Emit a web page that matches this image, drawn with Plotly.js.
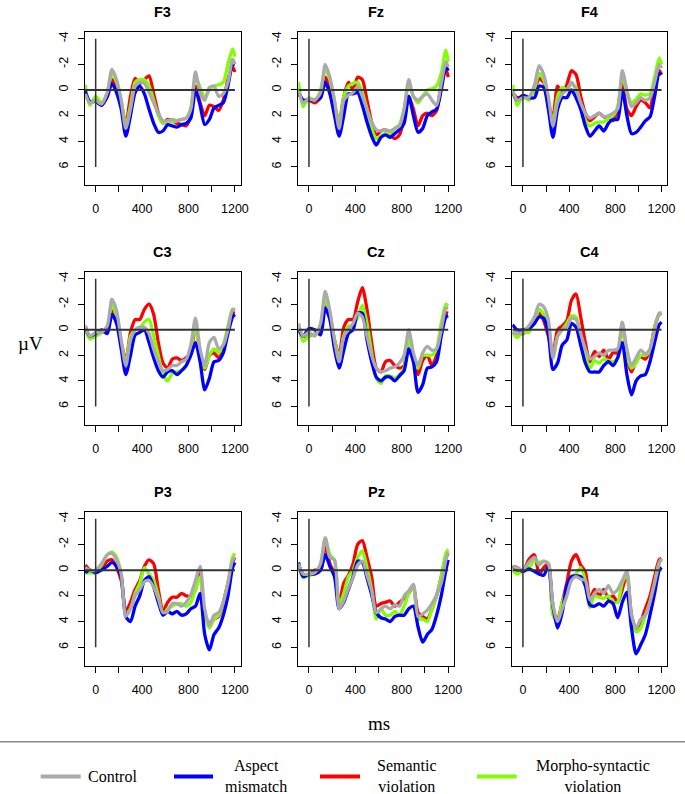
<!DOCTYPE html>
<html>
<head>
<meta charset="utf-8">
<script src="https://cdn.plot.ly/plotly-3.0.1.min.js"></script>
<style>html,body{margin:0;padding:0;background:#fff;}#chart{width:685px;height:794px;}</style>
</head>
<body>
<div id="chart"></div>
<script>
// time points (ms)
const ms = [-90,-50,0,50,100,140,180,220,260,300,340,380,420,460,500,540,580,620,660,700,740,780,820,860,900,940,980,1020,1060,1100,1140,1180,1200];

const seriesNames = ["Control", "Aspect mismatch", "Semantic violation", "Morpho-syntactic violation"];
const panelNames = ["F3","Fz","F4","C3","Cz","C4","P3","Pz","P4"];
const xTickVals = [0,200,400,600,800,1000,1200];
const xTickText = ["0","","400","","800","","1200"];
const yTickVals = [-4,-2,0,2,4,6];
const yTickText = ["-4","-2","0","2","4","6"];

// µV values (negative plotted up)
const F3_control  = [0.3,1.0,0.8,1.1,0.2,-1.6,-0.8,0.8,3.0,1.5,-0.3,-0.6,-0.5,0.2,1.0,1.8,2.4,2.4,2.3,2.4,2.3,2.2,1.5,-1.4,0.2,0.8,-0.2,-0.3,0.5,0.3,-0.6,-2.4,-2.0];
const F3_aspect   = [0.1,0.9,0.9,1.2,0.5,-0.5,0.2,1.5,3.6,2.0,0.2,-0.3,0.3,1.5,2.6,3.3,3.2,2.7,2.8,2.9,2.7,2.6,2.2,0.0,1.2,2.7,2.3,1.4,1.2,1.0,-0.3,-2.0,-2.0];
const F3_semantic = [0.2,1.0,0.8,1.2,0.5,-0.8,-0.3,1.0,2.7,0.5,-0.9,-0.5,-0.8,-1.1,0.3,1.8,2.6,2.3,2.4,2.6,2.7,2.8,2.0,-0.3,1.0,2.0,1.2,1.3,1.6,0.8,-0.8,-1.8,-1.4];
const F3_morpho   = [-0.4,1.2,0.5,1.0,0.2,-1.3,-0.6,0.8,2.8,1.2,-0.6,-0.8,-0.8,-0.3,0.8,2.0,2.6,2.4,2.5,2.4,2.3,2.2,1.4,-1.0,-0.2,0.6,0.0,-0.3,-0.4,-0.6,-2.0,-3.2,-2.6];

const Fz_control  = [0.0,1.0,0.7,0.8,0.2,-2.0,-1.0,0.8,3.0,0.8,0.4,0.2,-0.3,0.5,1.5,2.5,3.1,3.2,3.1,3.2,3.0,2.8,1.5,-0.8,0.5,0.8,0.5,0.3,0.8,1.2,-0.5,-2.2,-1.8];
const Fz_aspect   = [0.2,0.8,0.8,0.8,0.6,-0.6,0.3,2.0,3.6,2.0,0.3,0.3,0.2,1.2,2.5,3.6,4.3,3.7,3.5,3.7,3.4,3.1,2.6,0.5,2.0,3.3,3.0,2.0,1.7,1.5,0.0,-1.8,-1.5];
const Fz_semantic = [0.3,0.8,0.8,1.0,0.6,-1.0,-0.3,1.2,2.5,0.5,-0.6,0.0,-1.0,-0.8,0.8,2.5,3.5,3.2,3.1,3.5,3.8,3.5,2.2,0.5,1.5,2.8,2.0,1.8,2.0,1.6,-0.5,-1.6,-1.0];
const Fz_morpho   = [-0.6,1.3,0.6,0.8,0.0,-1.6,-0.8,0.9,2.7,0.5,-0.3,-0.5,-0.6,0.2,1.5,3.0,3.8,3.6,3.4,3.4,3.0,2.7,1.5,-0.4,0.5,1.0,0.5,0.0,-0.1,-0.3,-1.3,-3.1,-2.2];

const F4_control  = [0.0,0.8,0.6,0.6,-0.4,-1.9,-1.2,0.5,2.8,1.0,0.3,0.0,-0.6,0.0,1.0,1.8,2.2,2.0,1.8,2.1,2.0,1.8,1.5,-1.5,0.0,1.3,1.0,0.6,0.8,0.6,-0.6,-2.0,-1.7];
const F4_aspect   = [0.2,0.8,0.4,0.6,0.6,-0.3,-0.2,1.5,3.7,1.5,0.6,0.6,0.0,0.6,1.5,2.8,3.6,3.2,2.8,3.2,2.6,2.3,2.3,0.0,2.0,3.4,3.3,2.9,2.4,2.1,0.5,-1.3,-1.2];
const F4_semantic = [0.2,0.6,0.5,0.6,0.0,-0.9,-0.6,1.0,2.2,-0.3,0.2,-0.4,-1.5,-1.2,0.5,1.8,2.4,2.1,1.8,2.1,2.2,2.4,1.5,-0.5,1.5,2.0,1.3,0.8,1.0,1.4,-0.5,-1.5,-1.2];
const F4_morpho   = [-0.4,1.2,0.5,0.8,-0.1,-1.3,-0.8,0.8,2.6,0.5,-0.2,0.0,-0.5,-0.2,1.2,2.4,2.8,2.6,2.5,2.5,2.2,2.0,1.3,-1.1,0.2,1.0,0.7,0.3,0.4,0.3,-1.0,-2.5,-2.0];

const C3_control  = [-0.3,0.5,0.2,0.2,-0.3,-2.4,-1.5,0.8,2.8,0.8,0.0,-0.2,-0.2,0.3,1.5,2.5,3.2,3.1,2.8,2.8,2.5,2.3,1.2,-0.9,1.5,2.8,1.0,0.6,1.5,1.2,0.0,-1.6,-1.5];
const C3_aspect   = [-0.2,0.5,0.3,0.0,0.3,-1.2,-0.5,1.5,3.5,2.0,0.4,0.2,0.0,1.0,2.2,3.2,3.7,3.3,3.2,3.5,3.2,2.8,2.0,1.0,2.5,4.7,3.8,2.5,2.4,1.8,0.3,-1.0,-1.2];
const C3_semantic = [-0.3,0.5,0.3,0.2,0.0,-1.5,-0.8,1.0,2.4,0.2,-0.8,-0.8,-1.6,-2.0,-1.2,1.0,2.6,3.0,2.3,2.2,2.4,2.2,1.8,-0.5,2.0,3.1,2.0,1.8,2.2,1.5,0.0,-1.3,-1.3];
const C3_morpho   = [0.0,0.7,0.5,0.2,-0.2,-2.0,-1.0,1.0,2.6,0.5,0.0,-0.1,-0.6,-0.8,0.5,2.0,3.5,4.0,3.4,3.3,3.2,2.8,1.5,-0.3,2.0,3.0,2.0,1.5,1.8,1.2,-0.3,-1.6,-1.6];

const Cz_control  = [-0.5,0.5,0.2,0.5,-0.5,-3.0,-1.5,0.8,2.5,0.5,0.0,-0.5,-1.3,-1.0,0.5,2.0,3.0,3.3,3.2,3.0,2.9,2.6,2.0,0.0,1.8,2.8,1.8,1.3,1.6,1.5,0.0,-1.7,-1.7];
const Cz_aspect   = [0.0,0.5,-0.1,0.0,0.4,-1.7,-0.8,1.5,3.0,1.6,0.3,0.0,-1.3,-1.3,0.8,2.5,3.7,4.0,3.7,3.7,4.0,3.6,3.2,1.5,2.5,4.9,4.3,3.0,2.9,2.5,0.5,-1.0,-1.1];
const Cz_semantic = [0.0,0.5,0.5,0.3,0.0,-2.0,-1.0,0.8,2.0,-0.2,-0.8,-0.8,-2.2,-3.3,-1.6,1.0,3.0,3.3,2.5,2.4,2.8,3.0,2.8,0.3,2.3,3.5,2.4,2.0,2.8,2.0,0.2,-1.3,-1.3];
const Cz_morpho   = [-0.2,0.9,0.5,0.3,-0.3,-2.4,-1.2,0.8,2.2,0.5,-0.3,-0.3,-1.0,-1.9,-0.5,1.8,3.8,4.2,3.6,3.6,3.8,3.5,3.0,0.5,2.5,3.0,2.0,2.0,2.0,1.5,-0.5,-2.0,-1.9];

const C4_control  = [0.2,0.3,0.2,-0.3,-1.0,-2.0,-1.8,-0.8,2.2,0.5,0.0,-0.2,-0.9,-0.8,0.3,1.5,2.3,2.1,1.8,2.0,1.6,1.6,1.5,-0.6,1.5,2.8,2.2,1.6,1.9,1.5,0.0,-1.3,-1.3];
const C4_aspect   = [-0.4,0.0,0.0,-0.1,-0.5,-1.0,-0.9,0.3,3.1,2.6,1.2,0.8,-0.5,-0.2,1.2,2.6,3.3,3.3,3.3,2.8,2.5,2.8,2.2,1.0,3.5,5.1,4.0,3.6,3.5,2.5,1.0,-0.4,-0.6];
const C4_semantic = [0.2,0.3,0.3,-0.1,-0.5,-1.3,-0.7,0.5,2.0,0.0,-0.3,-0.7,-2.3,-2.8,-1.0,1.0,2.5,1.7,2.1,1.6,2.3,1.8,1.8,-0.5,2.2,3.3,2.4,2.1,2.3,1.6,-0.2,-1.2,-1.2];
const C4_morpho   = [0.2,0.6,0.2,0.2,-0.6,-1.6,-1.2,0.0,2.2,0.5,0.0,-0.5,-1.1,-1.0,0.5,2.0,3.0,2.4,2.6,2.3,2.4,2.5,2.2,-0.4,2.0,3.0,2.6,2.0,2.0,1.7,-0.2,-1.2,-1.2];

const P3_control  = [-0.2,0.0,0.0,-0.5,-1.2,-1.3,-0.8,0.3,3.6,3.0,2.0,1.5,0.9,0.8,1.3,2.2,3.3,3.2,2.6,2.6,2.8,2.5,1.9,0.8,-0.3,3.0,4.3,3.5,3.3,2.5,1.0,-0.8,-1.0];
const P3_aspect   = [0.2,0.0,0.2,0.0,-0.3,-0.6,-0.3,0.5,3.6,4.0,2.8,2.0,0.8,0.5,1.3,2.5,3.5,3.2,3.4,3.2,3.5,3.4,3.0,2.8,1.8,5.0,6.2,5.0,4.5,3.5,2.0,-0.2,-0.6];
const P3_semantic = [-0.4,0.0,0.2,-0.1,-0.7,-0.8,-0.2,0.8,3.2,2.5,1.5,0.8,-0.3,-0.8,-0.5,1.5,3.2,2.5,2.1,2.1,1.8,2.0,2.0,1.5,0.0,3.5,4.1,3.8,3.6,2.5,1.0,-0.6,-1.0];
const P3_morpho   = [0.2,0.2,0.2,-0.4,-1.2,-1.4,-1.0,0.3,3.4,3.0,1.8,1.0,-0.2,0.3,0.8,2.0,3.5,3.0,2.8,2.6,2.6,2.8,2.5,1.5,0.5,3.5,4.5,3.8,3.5,2.5,1.0,-1.0,-1.3];

const Pz_control  = [-0.5,0.3,0.3,0.2,-0.5,-2.5,-1.0,-0.8,3.0,2.4,1.4,0.6,-0.4,-0.7,0.4,1.6,3.3,3.0,2.8,3.0,2.7,2.8,2.0,1.6,1.1,3.6,3.4,3.1,2.6,1.9,1.0,-0.8,-1.4];
const Pz_aspect   = [-0.6,0.5,0.3,0.3,0.0,-1.2,-0.3,0.5,3.0,2.5,1.5,0.5,-0.7,-0.6,0.6,1.9,3.3,3.7,3.8,4.0,3.6,3.5,3.5,3.0,2.8,4.4,5.6,5.0,4.6,3.5,2.0,0.0,-0.8];
const Pz_semantic = [-0.4,0.3,0.4,0.0,0.0,-2.0,-0.5,0.3,2.5,1.0,0.4,-0.5,-2.0,-2.3,-1.0,0.5,2.8,2.6,2.5,2.4,2.8,2.5,2.2,1.8,1.3,3.3,3.6,3.8,3.0,2.0,0.5,-1.0,-1.3];
const Pz_morpho   = [-0.3,0.6,0.4,0.3,-0.5,-2.5,-1.2,-0.8,2.7,1.8,0.5,0.0,-1.0,-1.5,-0.2,1.5,3.8,3.0,3.5,3.5,3.2,3.5,2.8,1.8,1.2,3.8,3.8,4.0,3.0,2.0,0.5,-1.3,-1.6];

const P4_control  = [-0.3,-0.2,0.0,-0.6,-1.0,-0.4,-0.7,-0.5,2.7,4.0,3.0,2.0,0.8,0.5,0.7,0.8,2.3,1.8,1.5,1.8,1.2,1.8,1.5,0.8,0.1,3.5,4.5,3.8,3.5,2.5,1.0,-0.5,-0.9];
const P4_aspect   = [-0.3,-0.2,0.1,-0.1,0.1,0.3,0.4,-0.3,2.8,4.5,3.3,1.2,0.5,0.45,0.5,1.2,2.7,2.8,2.6,2.8,2.4,2.6,3.7,2.5,1.7,4.5,6.5,5.8,5.0,3.5,1.8,0.0,-0.2];
const P4_semantic = [-0.3,0.0,0.1,-0.8,-1.2,0.3,-0.2,-0.5,3.3,3.8,2.5,1.0,-0.7,-1.2,-0.4,0.1,2.2,1.5,2.0,1.5,2.2,2.0,2.5,1.5,0.3,3.5,4.6,4.0,3.0,2.0,0.5,-0.8,-0.9];
const P4_morpho   = [0.0,0.3,0.0,-0.2,-0.7,-0.6,-0.7,-0.5,3.5,4.0,2.5,1.5,0.5,0.3,-0.2,0.8,2.9,2.0,2.1,2.2,2.0,2.5,2.5,1.0,0.3,4.0,4.8,4.5,3.5,2.5,1.0,-0.6,-0.8];

const panelData = {
  F3: [F3_control, F3_aspect, F3_semantic, F3_morpho],
  Fz: [Fz_control, Fz_aspect, Fz_semantic, Fz_morpho],
  F4: [F4_control, F4_aspect, F4_semantic, F4_morpho],
  C3: [C3_control, C3_aspect, C3_semantic, C3_morpho],
  Cz: [Cz_control, Cz_aspect, Cz_semantic, Cz_morpho],
  C4: [C4_control, C4_aspect, C4_semantic, C4_morpho],
  P3: [P3_control, P3_aspect, P3_semantic, P3_morpho],
  Pz: [Pz_control, Pz_aspect, Pz_semantic, Pz_morpho],
  P4: [P4_control, P4_aspect, P4_semantic, P4_morpho]
};

// styling
const colors = ["#aaaaaa", "#0000ff", "#ff0000", "#7fff00"];
const drawOrder = [2, 3, 1, 0]; // red, green, blue, grey on top
const W = 685, H = 794;
const colPx = [[85, 240.7], [298.3, 454], [512.3, 667.3]];
const rowPx = [[32, 185], [272, 424.5], [512, 665.5]];
const px2x = v => v / W;
const py2y = v => 1 - v / H;
const sansFont = "'Liberation Sans', Arial, sans-serif";
const serifFont = "'Liberation Serif', 'Times New Roman', 'DejaVu Serif', serif";

const traces = [];
const layout = {
  width: W, height: H,
  margin: {l: 0, r: 0, t: 0, b: 0},
  paper_bgcolor: "#ffffff",
  plot_bgcolor: "#ffffff",
  showlegend: false,
  font: {family: sansFont},
  shapes: [],
  annotations: []
};

panelNames.forEach((name, i) => {
  const r = Math.floor(i / 3), c = i % 3;
  const n = i + 1;
  const xa = "x" + (n === 1 ? "" : n);
  const ya = "y" + (n === 1 ? "" : n);
  const vals = panelData[name];
  drawOrder.forEach(k => {
    traces.push({
      type: "scatter", mode: "lines",
      x: ms, y: vals[k],
      xaxis: xa, yaxis: ya,
      name: seriesNames[k],
      line: {color: colors[k], width: 3.3, shape: "spline", smoothing: 0.7},
      hoverinfo: "skip"
    });
  });
  const xd = [px2x(colPx[c][0]), px2x(colPx[c][1])];
  const yd = [py2y(rowPx[r][1]), py2y(rowPx[r][0])];
  layout["xaxis" + (n === 1 ? "" : n)] = {
    domain: xd, anchor: ya, range: [-92, 1250],
    tickmode: "array", tickvals: xTickVals, ticktext: xTickText,
    ticks: "outside", ticklen: 6, tickwidth: 1, tickcolor: "#000",
    showline: true, mirror: true, linecolor: "#000", linewidth: 1,
    showgrid: false, zeroline: false,
    tickfont: {family: sansFont, size: 12.5, color: "#000"},
    ticklabelstandoff: 6
  };
  layout["yaxis" + (n === 1 ? "" : n)] = {
    domain: yd, anchor: xa, range: [7.41, -4.52],
    tickmode: "array", tickvals: yTickVals, ticktext: yTickText,
    tickangle: -90,
    ticks: "outside", ticklen: 6, tickwidth: 1, tickcolor: "#000",
    showline: true, mirror: true, linecolor: "#000", linewidth: 1,
    showgrid: false, zeroline: false,
    tickfont: {family: sansFont, size: 12.5, color: "#000"},
    ticklabelstandoff: 5
  };
  // stimulus-onset and baseline lines
  layout.shapes.push({type: "line", xref: xa, yref: ya, x0: 0, x1: 0, y0: -4, y1: 6,
    line: {color: "#333333", width: 1.5}});
  layout.shapes.push({type: "line", xref: xa, yref: ya, x0: -92, x1: 1200, y0: 0, y1: 0,
    line: {color: "#333333", width: 2}});
  // panel title
  layout.annotations.push({
    text: "<b>" + name + "</b>", xref: "paper", yref: "paper",
    x: (xd[0] + xd[1]) / 2, y: py2y(rowPx[r][0] - 20),
    xanchor: "center", yanchor: "middle", showarrow: false,
    font: {family: sansFont, size: 14.5, color: "#000"}
  });
});

// axis labels
layout.annotations.push({text: "µV", xref: "paper", yref: "paper", x: px2x(30), y: py2y(343),
  xanchor: "center", yanchor: "middle", showarrow: false,
  font: {family: serifFont, size: 19, color: "#000"}});
layout.annotations.push({text: "ms", xref: "paper", yref: "paper", x: px2x(379), y: py2y(723),
  xanchor: "center", yanchor: "middle", showarrow: false,
  font: {family: serifFont, size: 19, color: "#000"}});

// separator
layout.shapes.push({type: "line", xref: "paper", yref: "paper", x0: 0, x1: 1,
  y0: py2y(741.7), y1: py2y(741.7), line: {color: "#8a8a8a", width: 1.5}});

// legend (manual, R-style)
const legendLinePx = [[40.7, 80.7], [174, 213], [320, 360], [477, 516.7]];
const legendLabels = ["Control", "Aspect<br>mismatch", "Semantic<br>violation", "Morpho-syntactic<br>violation"];
const legendTextX = [86, 255.7, 406.7, 593];
const legendY = 776.5;
legendLinePx.forEach((p, k) => {
  layout.shapes.push({type: "line", xref: "paper", yref: "paper",
    x0: px2x(p[0]), x1: px2x(p[1]), y0: py2y(legendY), y1: py2y(legendY),
    line: {color: colors[k], width: 4}});
  layout.annotations.push({text: legendLabels[k], xref: "paper", yref: "paper",
    x: px2x(legendTextX[k]), y: py2y(k === 0 ? legendY : 775.7),
    xanchor: k === 0 ? "left" : "center", yanchor: "middle", align: "center",
    showarrow: false, font: {family: serifFont, size: 16, color: "#000"}});
});

Plotly.newPlot("chart", traces, layout, {displayModeBar: false, staticPlot: true});
</script>
</body>
</html>
